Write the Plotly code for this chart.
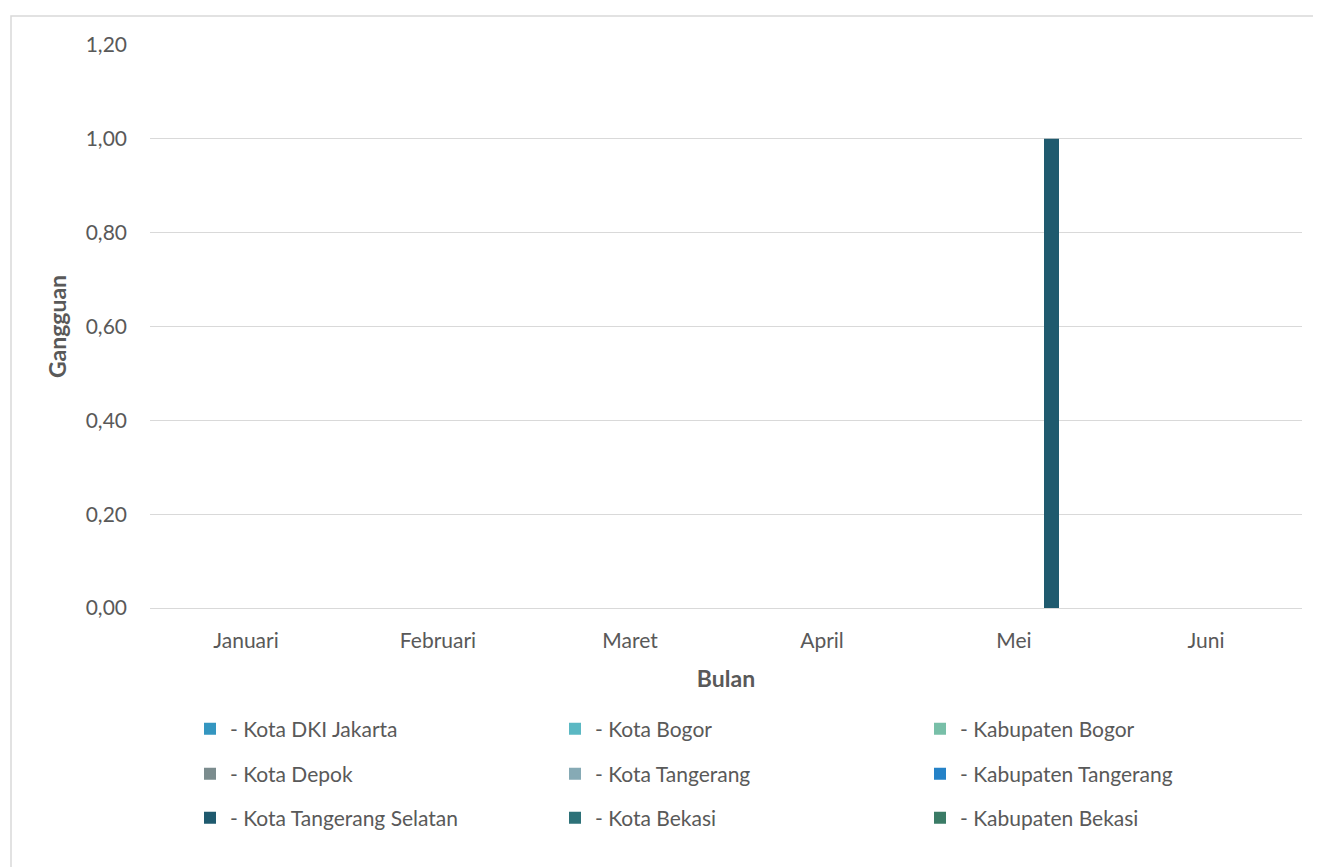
import plotly.graph_objects as go

months = ["Januari", "Februari", "Maret", "April", "Mei", "Juni"]
series_names = [
    "- Kota DKI Jakarta", "- Kota Bogor", "- Kabupaten Bogor",
    "- Kota Depok", "- Kota Tangerang", "- Kabupaten Tangerang",
    "- Kota Tangerang Selatan", "- Kota Bekasi", "- Kabupaten Bekasi",
]
values = [
    [0, 0, 0, 0, 0, 0],
    [0, 0, 0, 0, 0, 0],
    [0, 0, 0, 0, 0, 0],
    [0, 0, 0, 0, 0, 0],
    [0, 0, 0, 0, 0, 0],
    [0, 0, 0, 0, 0, 0],
    [0, 0, 0, 0, 1, 0],
    [0, 0, 0, 0, 0, 0],
    [0, 0, 0, 0, 0, 0],
]
colors = ["#3496c0", "#5bb8c3", "#78bfa8", "#7b8c8e", "#86aab5",
          "#2582c7", "#1f5a6e", "#2d7178", "#3a7b66"]

FONT = "Lato, Carlito, 'Liberation Sans', sans-serif"
GREY = "#595959"

# page body has an 8px margin: figure origin is at screen (8, 8)
W = 1313
H = 859
L, R, T, B = 142, 19, 37, 259
pw = W - L - R
ph = H - T - B

bw = 15 / (pw / len(months))  # bar width in category units

legend_ids = ["legend", "legend2", "legend3"]
row_centers = [721, 766, 810]  # figure px
leg_x = (182 - L) / pw

fig = go.Figure()
for i, (name, vals, col) in enumerate(zip(series_names, values, colors)):
    fig.add_trace(go.Bar(
        x=months, y=vals, name=name, marker_color=col,
        marker_line_width=0, width=bw, offset=(i - 4) * bw,
        legend=legend_ids[i // 3],
    ))

legend_common = dict(
    orientation="h", x=leg_x, xanchor="left", yanchor="middle",
    entrywidth=320, entrywidthmode="pixels",
    font=dict(size=21, color=GREY, family=FONT),
    itemwidth=30, traceorder="normal", bgcolor="rgba(0,0,0,0)",
)
legends = {}
for k, lid in enumerate(legend_ids):
    d = dict(legend_common)
    d["y"] = -(row_centers[k] - (T + ph)) / ph
    legends[lid] = d

fig.update_layout(
    width=W, height=H,
    margin=dict(l=L, r=R, t=T, b=B),
    paper_bgcolor="white", plot_bgcolor="white",
    separators=",.",
    font=dict(family=FONT, color=GREY, size=21),
    barmode="overlay",
    showlegend=True,
    xaxis=dict(
        title=dict(text="<b>Bulan</b>", font=dict(size=23, color=GREY), standoff=19),
        showgrid=False, showline=True, linecolor="#d9d9d9", linewidth=1,
        ticks="", tickfont=dict(size=21, color=GREY), ticklabelstandoff=14,
    ),
    yaxis=dict(
        title=dict(text="<b>Gangguan</b>", font=dict(size=23, color=GREY), standoff=12),
        range=[0, 1.2], dtick=0.2, tickformat=".2f",
        showgrid=True, gridcolor="#d9d9d9", gridwidth=1,
        zeroline=False, showline=False, ticks="",
        tickfont=dict(size=21, color=GREY), ticklabelstandoff=22,
    ),
    shapes=[dict(
        type="rect", xref="paper", yref="paper",
        x0=(3 - L) / pw, x1=(W + 5 - L) / pw,
        y0=-(H + 5 - T - ph) / ph, y1=(T + ph - 8) / ph,
        line=dict(color="#d9d9d9", width=1.5), fillcolor="rgba(0,0,0,0)",
        layer="below",
    )],
    **legends,
)

fig.write_html("out.html")
